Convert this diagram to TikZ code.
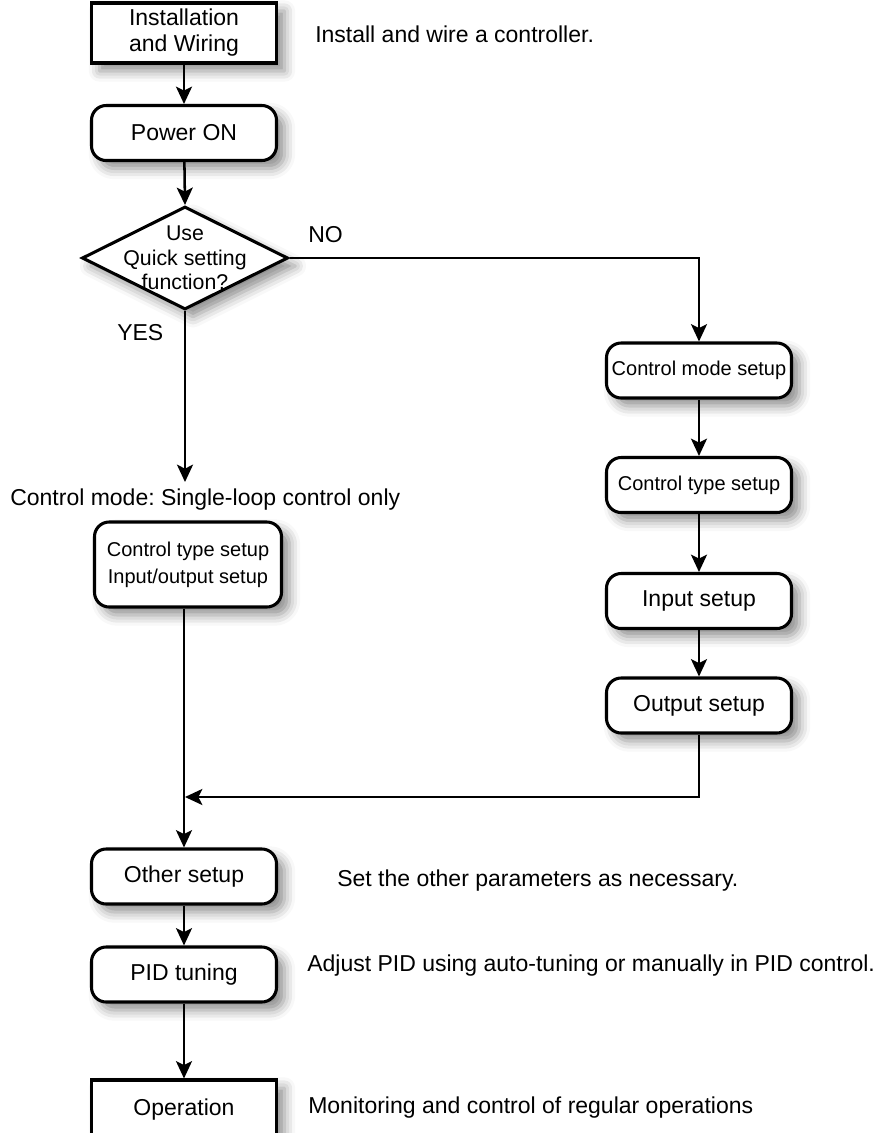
\documentclass[tikz,border=0pt]{standalone}
\usepackage{fontspec}
\setmainfont{Liberation Sans}
\frenchspacing
\usetikzlibrary{shapes.geometric,arrows.meta,shadows.blur}

\begin{document}
\begin{tikzpicture}[x=0.75pt,y=-0.75pt,
                    softshadow/.style={blur shadow={shadow xshift=6pt,shadow yshift=-6pt,shadow blur radius=8pt,shadow opacity=45}},
                    terminal/.style={rectangle,draw=black,line width=2.3pt,fill=white,minimum width=138.75pt,minimum height=45pt,align=center,font=\fontsize{17.25}{19.5}\selectfont,softshadow},
                    process/.style={rectangle,rounded corners=11pt,draw=black,line width=2.3pt,fill=white,minimum width=138.75pt,minimum height=41.25pt,align=center,font=\fontsize{17.25}{19.5}\selectfont,softshadow},
                    smallproc/.style={process,inner sep=1pt,font=\fontsize{15}{20}\selectfont},
                    decision/.style={diamond,draw=black,line width=2.3pt,fill=white,minimum width=154.5pt,minimum height=77.25pt,inner sep=0pt,softshadow},
                    remark/.style={anchor=base west,inner sep=0pt,font=\fontsize{17.25}{19.5}\selectfont},
                    flow/.style={line width=1.9pt,-{Stealth[length=13pt,width=12pt,inset=3pt]}},
                    wire/.style={line width=1.9pt}
                ]
                    \useasboundingbox (0,0) rectangle (885,1133);
                    \clip (0,0) rectangle (885,1133);
                    % main column
                    \node[terminal] (inst) at (184,33) {Installation\\and Wiring};
                    \node[process] (pwr) at (184,133) {Power ON};
                    \node[decision,label={[align=center,font=\fontsize{16}{18.4}\selectfont]center:Use\\Quick setting\\function?}] (quick) at (185,258) {};
                    \node[smallproc,minimum width=140.25pt,minimum height=63.75pt] (ctio) at (188,564.5) {Control type setup\\Input/output setup};
                    \node[process] (other) at (184,876.5) {Other setup};
                    \node[process] (pid) at (184,974.5) {PID tuning};
                    \node[terminal] (oper) at (184,1110) {Operation};
                    % right column
                    \foreach \n/\y/\t in {cms/370.5/Control mode setup, cts/485/Control type setup}
                        {
                        \node[smallproc] (\n) at (699,\y) {\t};
                        }
                    \foreach \n/\y/\t in {ins/601/Input setup, outs/705.5/Output setup}
                        {
                        \node[process] (\n) at (699,\y) {\t};
                        }
                    % texts
                    \node[remark] (r1) at (315,42) {Install and wire a controller.};
                    \node[remark] (r2) at (337,886) {Set the other parameters as necessary.};
                    \node[remark] (r3) at (307,971) {Adjust PID using auto-tuning or manually in PID control.};
                    \node[remark] (r4) at (308,1113) {Monitoring and control of regular operations};
                    \node[remark] (mode) at (10,505) {Control mode: Single-loop control only};
                    \node[remark] (no) at (308,242) {NO};
                    \node[remark] (yes) at (117,340) {YES};
                    \coordinate (yesend) at (185,482);
                    \coordinate (merge) at (185,797);
                    % connectors
                    \draw[flow] (inst) -- (pwr);
                    \draw[flow] (pwr) -- (quick.north);
                    \draw[flow] (quick.east) -| (cms.north);
                    \draw[flow] (quick.south) -- (yesend);
                    \foreach \a/\b in {cms/cts,cts/ins,ins/outs}
                        \draw[flow] (\a) -- (\b);
                    \draw[flow] (outs.south) |- (merge);
                    \draw[flow] (ctio.south -| other.north) -- (other.north);
                    \draw[flow] (other) -- (pid);
                    \draw[flow] (pid) -- (oper);
                \end{tikzpicture}
\end{document}
